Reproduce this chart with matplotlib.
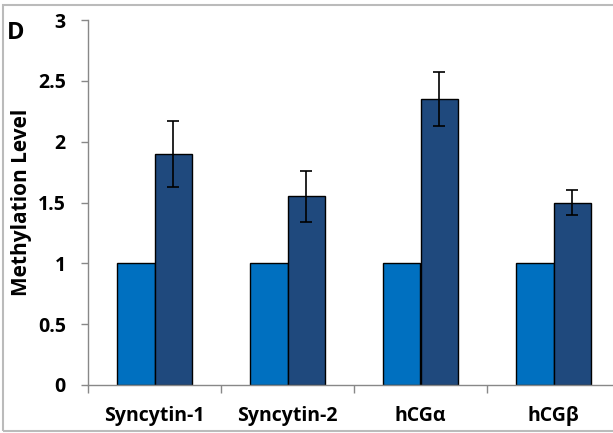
import matplotlib.pyplot as plt
from matplotlib.patches import Rectangle
import numpy as np

genes = ['Syncytin-1', 'Syncytin-2', 'hCGα', 'hCGβ']
control = [1.0, 1.0, 1.0, 1.0]
treated = [1.9, 1.55, 2.35, 1.5]
treated_err = [0.27, 0.21, 0.22, 0.10]

plt.rcParams['font.family'] = ['Open Sans', 'DejaVu Sans']

fig = plt.figure(figsize=(6.13, 4.33), dpi=100)
ax = fig.add_axes([88 / 613, 48 / 433, 532 / 613, 365 / 433])

x = np.arange(len(genes))
w = 0.285
ax.bar(x - w / 2, control, w, color='#0070C0', edgecolor='black', linewidth=1)
ax.bar(x + w / 2, treated, w, color='#1F497D', edgecolor='black', linewidth=1,
       yerr=treated_err, error_kw=dict(ecolor='black', elinewidth=1.2, capsize=4, capthick=1.2))

ax.set_xlim(-0.5, len(genes) - 0.5)
ax.set_ylim(0, 3)
ax.set_yticks(np.arange(0, 3.01, 0.5))
ax.set_yticklabels(['0', '0.5', '1', '1.5', '2', '2.5', '3'], fontsize=14, fontweight='bold')
ax.set_xticks(x)
ax.set_xticklabels(genes, fontsize=14, fontweight='bold')
ax.set_xticks(np.arange(-0.5, len(genes)), minor=True)
ax.tick_params(axis='x', which='major', length=0, pad=15)
ax.tick_params(axis='x', which='minor', length=6, color='#888888', width=1)
ax.tick_params(axis='y', length=5, color='#888888', width=1, pad=11)

for s in ['top', 'right']:
    ax.spines[s].set_visible(False)
for s in ['left', 'bottom']:
    ax.spines[s].set_color('#888888')
    ax.spines[s].set_linewidth(1)

ax.set_ylabel('Methylation Level', fontsize=15, fontweight='bold', labelpad=4)
fig.text(7 / 613, 1 - 33 / 433, 'D', fontsize=17, fontweight='bold', va='center', ha='left')

fig.patches.append(Rectangle((3 / 613, 2 / 433), 1.2, 426 / 433, transform=fig.transFigure,
                             fill=False, edgecolor='#bbbbbb', linewidth=1.5))

fig.savefig('out.png', dpi=100)
